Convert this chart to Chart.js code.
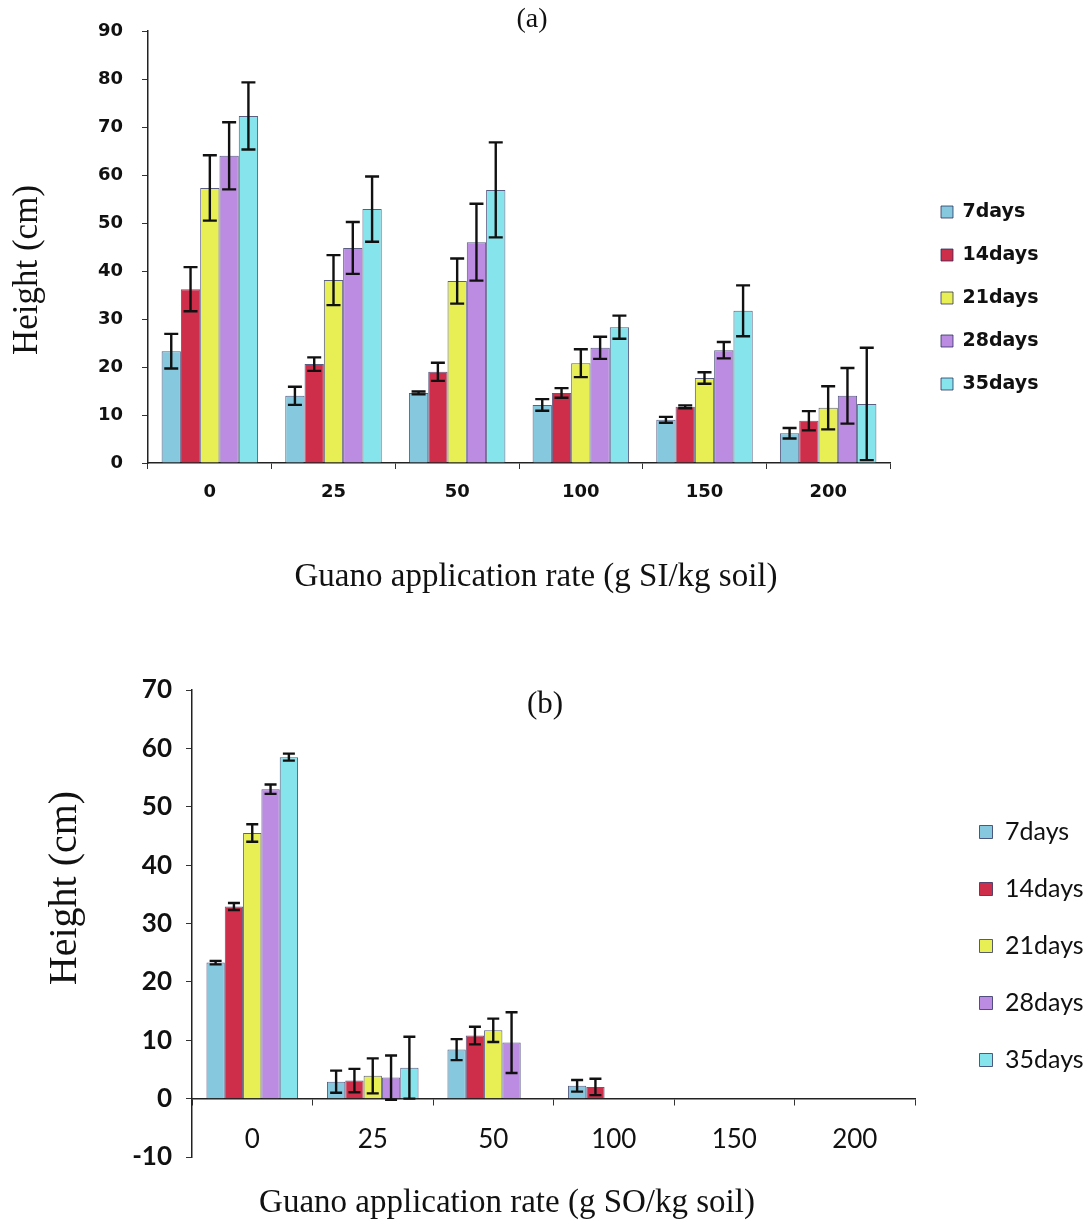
<!DOCTYPE html>
<html lang="en">
  <head>
    <meta charset="UTF-8" />
    <title>Guano application rate vs height</title>
    <script src="https://cdn.jsdelivr.net/npm/chart.js"></script>
    <style>
      body {
        margin: 0;
        background: white;
        overflow: hidden;
        width: 1089px;
        height: 1224px;
        position: relative;
      }
      canvas {
        position: absolute;
        left: 0;
      }
      #chartA {
        top: 0;
      }
      #chartB {
        top: 612px;
      }
    </style>
  </head>
  <body>
    <canvas id="chartA" width="1089" height="600"></canvas>
    <canvas id="chartB" width="1098" height="612"></canvas>
    <script>
      const rates = ["0", "25", "50", "100", "150", "200"];
      const seriesNames = ["7days", "14days", "21days", "28days", "35days"];
      const seriesColors = ["#86c8de", "#cf2e4a", "#e8ef55", "#bc8ce2", "#86e4ec"];

      // (a) SI guano
      const days7A = [23.3, 14.0, 14.6, 12.1, 9.0, 6.2];
      const days14A = [36.2, 20.6, 19.0, 14.6, 11.7, 8.8];
      const days21A = [57.3, 38.1, 37.9, 20.8, 17.7, 11.5];
      const days28A = [64.0, 44.8, 46.0, 24.0, 23.5, 14.0];
      const days35A = [72.3, 52.9, 56.9, 28.3, 31.7, 12.3];
      const err7A = [3.6, 1.9, 0.3, 1.2, 0.6, 1.1];
      const err14A = [4.6, 1.4, 1.9, 1.0, 0.3, 2.0];
      const err21A = [6.8, 5.2, 4.7, 2.9, 1.2, 4.5];
      const err28A = [7.0, 5.4, 8.0, 2.3, 1.7, 5.8];
      const err35A = [7.0, 6.8, 9.9, 2.4, 5.3, 11.7];

      // (b) SO guano
      const days7B = [23.3, 2.9, 8.4, 2.2, 0, 0];
      const days14B = [32.9, 3.1, 10.8, 2.0, 0, 0];
      const days21B = [45.5, 3.9, 11.7, 0, 0, 0];
      const days28B = [53.0, 3.6, 9.6, 0, 0, 0];
      const days35B = [58.5, 5.3, 0, 0, 0, 0];
      const err7B = [0.3, 1.9, 1.8, 1.0, 0, 0];
      const err14B = [0.6, 2.0, 1.5, 1.4, 0, 0];
      const err21B = [1.5, 3.0, 2.0, 0, 0, 0];
      const err28B = [0.8, 3.8, 5.2, 0, 0, 0];
      const err35B = [0.6, 5.3, 0, 0, 0, 0];

      const ticksA = [0, 10, 20, 30, 40, 50, 60, 70, 80, 90];
      const ticksB = [-10, 0, 10, 20, 30, 40, 50, 60, 70];

      const errorBars = {
        id: "errorBars",
        afterDatasetsDraw(chart, args, opts) {
          const ctx = chart.ctx;
          const yScale = chart.scales.y;
          ctx.save();
          ctx.strokeStyle = "#111";
          ctx.lineWidth = opts.width;
          chart.data.datasets.forEach((ds, i) => {
            chart.getDatasetMeta(i).data.forEach((bar, j) => {
              const err = ds.errors[j];
              if (!err) return;
              const v = ds.data[j];
              const top = yScale.getPixelForValue(v + err);
              const bot = yScale.getPixelForValue(v - err);
              ctx.beginPath();
              ctx.moveTo(bar.x, top);
              ctx.lineTo(bar.x, bot);
              ctx.moveTo(bar.x - opts.cap, top);
              ctx.lineTo(bar.x + opts.cap, top);
              ctx.moveTo(bar.x - opts.cap, bot);
              ctx.lineTo(bar.x + opts.cap, bot);
              ctx.stroke();
            });
          });
          ctx.restore();
        },
      };

      // panel letter and axis titles
      function textPlugin(items) {
        return {
          id: "chartTexts",
          afterDraw(chart) {
            const ctx = chart.ctx;
            items.forEach((t) => {
              ctx.save();
              ctx.font = t.font;
              ctx.fillStyle = "#111";
              ctx.textAlign = "center";
              ctx.textBaseline = "middle";
              ctx.translate(t.x, t.y);
              if (t.vertical) ctx.rotate(-Math.PI / 2);
              ctx.fillText(t.text, 0, 0);
              ctx.restore();
            });
          },
        };
      }

      // right padding so the legend (natural width) starts at legendLeft
      function legendPadRight(canvasW, font, fontSize, boxW, pad, legendLeft) {
        const ctx = document.createElement("canvas").getContext("2d");
        ctx.font = font;
        const maxText = Math.max(...seriesNames.map((n) => ctx.measureText(n).width));
        const width = pad + boxW + fontSize / 2 + maxText + 10;
        return Math.max(0, canvasW - legendLeft - width);
      }

      function makeDatasets(values, errors) {
        return seriesNames.map((name, i) => ({
          label: name,
          data: values[i],
          errors: errors[i],
          backgroundColor: seriesColors[i],
          borderColor: "rgba(35, 40, 90, 0.75)",
          borderWidth: 1,
          xAxisID: "x",
          yAxisID: "y",
        }));
      }

      const hidden = {
        display: true,
        grid: { display: false },
        ticks: { display: false },
        border: { display: false },
      };

      // chart (a)
      const padRightA = legendPadRight(1089, "bold 19px DejaVu Sans", 19, 12, 24, 917);
      new Chart(document.getElementById("chartA"), {
        type: "bar",
        data: {
          labels: rates,
          datasets: makeDatasets(
            [days7A, days14A, days21A, days28A, days35A],
            [err7A, err14A, err21A, err28A, err35A]
          ),
        },
        plugins: [
          errorBars,
          textPlugin([
            { text: "(a)", x: 532, y: 20, font: "28px 'Liberation Serif'" },
            { text: "Guano application rate (g SI/kg soil)", x: 536, y: 577, font: "33px 'Liberation Serif'" },
            { text: "Height (cm)", x: 28, y: 270, font: "35px 'Liberation Serif'", vertical: true },
          ]),
        ],
        options: {
          responsive: false,
          animation: false,
          devicePixelRatio: 1,
          categoryPercentage: 0.78,
          barPercentage: 1.0,
          layout: { padding: { left: 0, right: padRightA, top: 31, bottom: 35 } },
          scales: {
            x: {
              grid: { drawOnChartArea: false, offset: true, tickLength: 6, color: "#333" },
              border: { color: "#222", width: 1.5 },
              ticks: { color: "#111", padding: 13, font: { family: "DejaVu Sans", weight: "bold", size: 18 } },
              afterFit: (s) => {
                s.height = 102;
              },
            },
            y: {
              min: 0,
              max: 90,
              afterBuildTicks: (s) => {
                s.ticks = ticksA.map((v) => ({ value: v }));
              },
              grid: { drawOnChartArea: false, tickLength: 6, color: "#333" },
              border: { color: "#222", width: 1.5 },
              ticks: { color: "#111", padding: 19, font: { family: "DejaVu Sans", weight: "bold", size: 18 } },
              afterFit: (s) => {
                s.width = 148;
              },
            },
            y2: {
              type: "linear",
              position: "right",
              ...hidden,
              afterFit: (s) => {
                s.width = 27;
              },
            },
          },
          plugins: {
            legend: {
              position: "right",
              labels: {
                boxWidth: 12,
                boxHeight: 12,
                padding: 24,
                color: "#111",
                font: { family: "DejaVu Sans", weight: "bold", size: 19 },
              },
            },
            tooltip: { enabled: false },
            errorBars: { width: 2.4, cap: 7 },
          },
        },
      });

      // chart (b)
      const padRightB = legendPadRight(1098, "25px Lato", 25, 13, 32, 947.5);
      new Chart(document.getElementById("chartB"), {
        type: "bar",
        data: {
          labels: rates,
          datasets: makeDatasets(
            [days7B, days14B, days21B, days28B, days35B],
            [err7B, err14B, err21B, err28B, err35B]
          ),
        },
        plugins: [
          errorBars,
          textPlugin([
            { text: "(b)", x: 545, y: 93, font: "31px 'Liberation Serif'" },
            { text: "Guano application rate (g SO/kg soil)", x: 507, y: 591, font: "33px 'Liberation Serif'" },
            { text: "Height (cm)", x: 65, y: 276, font: "40px 'Liberation Serif'", vertical: true },
          ]),
        ],
        options: {
          responsive: false,
          animation: false,
          devicePixelRatio: 1,
          categoryPercentage: 0.76,
          barPercentage: 1.0,
          layout: { padding: { left: 0, right: padRightB, top: 78, bottom: 22 } },
          scales: {
            x: {
              position: { y: 0 },
              grid: { drawOnChartArea: false, offset: true, tickLength: 6, color: "#333" },
              border: { color: "#222", width: 1.5 },
              ticks: { color: "#111", padding: 19, font: { family: "Lato", size: 26 } },
            },
            x2: {
              type: "category",
              position: "bottom",
              ...hidden,
              afterFit: (s) => {
                s.height = 45;
              },
            },
            y: {
              min: -10,
              max: 70,
              afterBuildTicks: (s) => {
                s.ticks = ticksB.map((v) => ({ value: v }));
              },
              grid: { drawOnChartArea: false, tickLength: 6, color: "#333" },
              border: { color: "#222", width: 1.5 },
              ticks: { color: "#111", padding: 14, font: { family: "Lato", weight: "bold", size: 26 } },
              afterFit: (s) => {
                s.width = 192;
              },
            },
            y2: {
              type: "linear",
              position: "right",
              ...hidden,
              afterFit: (s) => {
                s.width = 32.5;
              },
            },
          },
          plugins: {
            legend: {
              position: "right",
              labels: {
                boxWidth: 13,
                boxHeight: 13,
                padding: 32,
                color: "#111",
                font: { family: "Lato", size: 25 },
              },
            },
            tooltip: { enabled: false },
            errorBars: { width: 2.4, cap: 6 },
          },
        },
      });
    </script>
  </body>
</html>
